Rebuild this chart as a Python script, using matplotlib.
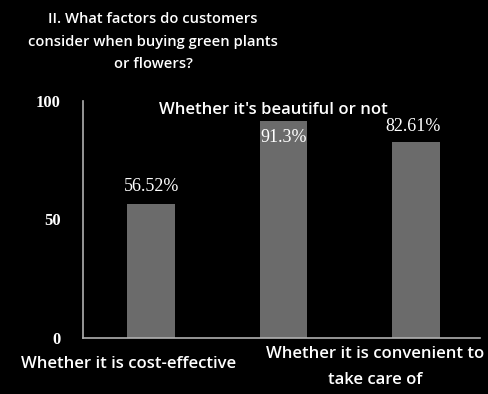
import numpy as np
import matplotlib.pyplot as plt

title = "II. What factors do customers\nconsider when buying green plants\nor flowers?"
categories = ["Whether it is cost-effective",
              "Whether it's beautiful or not",
              "Whether it is convenient to\ntake care of"]
values = [56.52, 91.3, 82.61]
value_labels = ["56.52%", "91.3%", "82.61%"]
yticks = [0, 50, 100]

fig = plt.figure(figsize=(4.89, 3.94), dpi=100, facecolor="black")
ax = fig.add_axes([0.170, 0.142, 0.812, 0.602], facecolor="black")

x = np.arange(len(values))
ax.bar(x, values, width=0.36, color="#6b6b6b")
ax.set_xlim(-0.515, 2.485)
ax.set_ylim(0, 100)

for side in ["top", "right"]:
    ax.spines[side].set_visible(False)
for side in ["left", "bottom"]:
    ax.spines[side].set_color("#b0b0b0")
    ax.spines[side].set_linewidth(1.2)

ax.set_xticks([])
ax.set_yticks(yticks)
ax.tick_params(axis="y", length=0, pad=16)
for lab in ax.get_yticklabels():
    lab.set_color("white")
    lab.set_fontfamily("Liberation Serif")
    lab.set_fontweight("bold")
    lab.set_fontsize(12)

sans = "Open Sans"
serif = "Liberation Serif"
white = "white"
wt = "semibold"

# value labels: first and third above the bar, second just inside its top
ax.text(x[0], values[0] + 4, value_labels[0], ha="center", va="bottom",
        color=white, fontsize=13, family=serif)
ax.text(x[1], values[1] - 3, value_labels[1], ha="center", va="top",
        color=white, fontsize=13, family=serif)
ax.text(x[2] - 0.02, values[2] + 3, value_labels[2], ha="center", va="bottom",
        color=white, fontsize=13, family=serif)

# category labels
ax.text(x[0] - 0.17, -7.5, categories[0], ha="center", va="top",
        color=white, fontsize=12, family=sans, weight=wt)
ax.text(x[1] - 0.08, 96, categories[1], ha="center", va="center",
        color=white, fontsize=12, family=sans, weight=wt)
ax.text(x[2] - 0.31, -3.5, categories[2], ha="center", va="top",
        color=white, fontsize=12, family=sans, weight=wt, linespacing=1.8)

fig.text(153 / 489, 1 - 12 / 394, title, ha="center", va="top",
         color=white, fontsize=10.6, family=sans, weight=wt, linespacing=1.78)

fig.savefig("out.png", dpi=100, facecolor="black")
